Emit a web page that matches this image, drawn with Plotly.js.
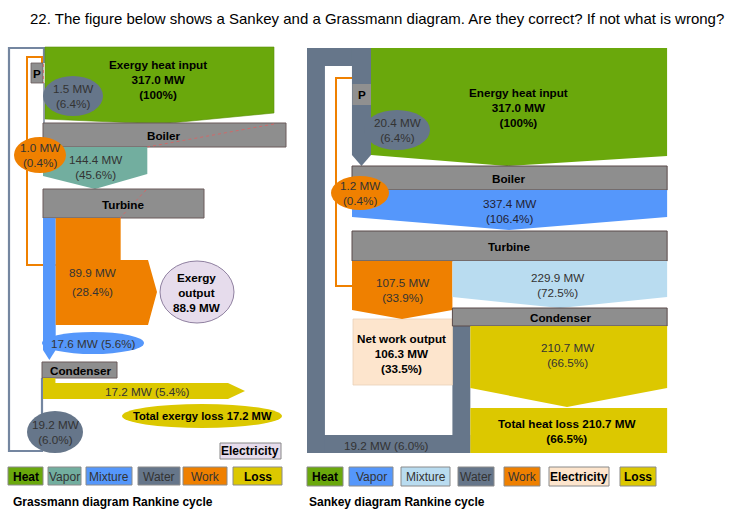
<!DOCTYPE html>
<html>
<head>
<meta charset="utf-8">
<script src="https://cdn.plot.ly/plotly-3.0.1.min.js"></script>
<style>html,body{margin:0;padding:0;background:#fff;}#chart{width:736px;height:517px;}</style>
</head>
<body>
<div id="chart"></div>
<script>
// ---------------- DATA ----------------
const titleText = '22. The figure below shows a Sankey and a Grassmann diagram. Are they correct? If not what is wrong?';
// Grassmann (exergy) diagram
const grassFlows = ['Exergy heat input', 'Pump water', 'Pump work', 'Vapor', 'Work', 'Mixture', 'Loss', 'Return water'];
const grassMW    = [317.0, 1.5, 1.0, 144.4, 89.9, 17.6, 17.2, 19.2];
const grassPct   = ['100%', '6.4%', '0.4%', '45.6%', '28.4%', '5.6%', '5.4%', '6.0%'];
const grassExergyOutputMW = 88.9;
const grassTotalLossMW = 17.2;
// Sankey (energy) diagram
const sankeyFlows = ['Energy heat input', 'Pump water', 'Pump work', 'Vapor', 'Work', 'Mixture', 'Loss', 'Return water'];
const sankeyMW    = [317.0, 20.4, 1.2, 337.4, 107.5, 229.9, 210.7, 19.2];
const sankeyPct   = ['100%', '6.4%', '0.4%', '106.4%', '33.9%', '72.5%', '66.5%', '6.0%'];
const sankeyNetWorkMW = 106.3, sankeyNetWorkPct = '33.5%';
const sankeyTotalLossMW = 210.7, sankeyTotalLossPct = '66.5%';
// Components and legends
const components = ['P', 'Boiler', 'Turbine', 'Condenser'];
const legendLeft  = ['Heat', 'Vapor', 'Mixture', 'Water', 'Work', 'Loss'];
const legendRight = ['Heat', 'Vapor', 'Mixture', 'Water', 'Work', 'Electricity', 'Loss'];
const captions = ['Grassmann diagram Rankine cycle', 'Sankey diagram Rankine cycle'];

// ---------------- STYLE ----------------
const C = {
  Heat: '#6aa80c', VaporG: '#72ae9f', Vapor: '#5597fb', Mixture: '#5597fb', MixtureS: '#b9dcf0',
  Water: '#66768a', Work: '#ef8000', Loss: '#dcc800', ElecG: '#e6dcec', ElecS: '#fde5cd',
  Box: '#8e8e8e', BoxLine: '#6a5a5a'
};
const FONT = 'Liberation Sans, Arial, sans-serif';
const FS = 11.7;
const mw = v => v.toFixed(1) + ' MW';

const shapes = [], ann = [];
function poly(pts, fill, line, lw) {
  const d = 'M ' + pts.map(p => p[0] + ',' + p[1]).join(' L ') + ' Z';
  shapes.push({type: 'path', xref: 'x', yref: 'y', path: d, fillcolor: fill,
    line: {color: line || fill, width: lw === undefined ? 0 : lw}, layer: 'above'});
}
function pline(pts, color, width, dash) {
  const d = 'M ' + pts.map(p => p[0] + ',' + p[1]).join(' L ');
  shapes.push({type: 'path', xref: 'x', yref: 'y', path: d, fillcolor: 'rgba(0,0,0,0)',
    line: {color: color, width: width, dash: dash || 'solid'}, layer: 'above'});
}
function rect(x0, y0, x1, y1, fill, line, lw) {
  shapes.push({type: 'rect', xref: 'x', yref: 'y', x0: x0, y0: y0, x1: x1, y1: y1, fillcolor: fill,
    line: {color: line || fill, width: lw === undefined ? 0 : lw}, layer: 'above'});
}
function ell(cx, cy, rx, ry, fill, line, lw) {
  shapes.push({type: 'circle', xref: 'x', yref: 'y', x0: cx - rx, y0: cy - ry, x1: cx + rx, y1: cy + ry,
    fillcolor: fill, line: {color: line || fill, width: lw === undefined ? 0 : lw}, layer: 'above'});
}
function txt(x, y, text, opt) {
  opt = opt || {};
  const bold = opt.bold;
  ann.push({xref: 'x', yref: 'y', x: x, y: y, text: bold ? '<b>' + text + '</b>' : text, showarrow: false,
    xanchor: opt.xanchor || 'center', yanchor: 'middle', align: opt.align || 'center',
    font: {family: opt.family || FONT, size: opt.size || FS, color: opt.color || (bold ? '#000' : '#333')}});
}

// ---------------- GRASSMANN (left) ----------------
const kG = 229 / grassMW[0]; // px per MW
const gx0 = 43;
const gMixR = gx0 + grassMW[5] * kG;
const gWorkR = gMixR + grassMW[4] * kG;
const gHeatL = 45, gHeatR = gHeatL + grassMW[0] * kG;
const gVapR = gx0 + grassMW[3] * kG;
const gLossR = gx0 + grassMW[6] * kG;

// water return loop (thin)
pline([[42, 378], [42, 451], [9, 451], [9, 48], [44, 48], [44, 63]], '#7486a0', 2.2);
// work to pump (thin orange)
pline([[gMixR, 265], [27, 265], [27, 57], [42, 57], [42, 63]], C.Work, 2);
// heat input
poly([[gHeatL, 47], [gHeatR, 47], [gHeatR, 113], [160, 124], [gHeatL, 119]], C.Heat, '#5a8f0a', 0.6);
pline([[44, 83], [44, 123]], '#7b8797', 1.5);
// pump
rect(31, 63, 43, 83, C.Box, C.BoxLine, 0.8);
pline([[43.5, 64], [43.5, 83]], '#e06060', 0.8, 'dot');
ell(73, 96, 30, 20, C.Water);
// boiler
rect(gx0, 123, 286, 147, C.Box, C.BoxLine, 1);
pline([[274, 124], [147, 147]], '#e06060', 0.8, 'dot');
// vapor
poly([[gx0, 147], [gVapR, 147], [gVapR, 174], [95, 189], [gx0, 176]], C.VaporG);
ell(40, 155, 26, 18, C.Work);
// turbine
rect(gx0, 189, 204, 218, C.Box, C.BoxLine, 1);
pline([[146, 190], [120, 218]], '#e06060', 0.8, 'dot');
// mixture down to condenser
poly([[gx0, 218], [gMixR, 218], [gMixR, 350], [(gx0 + gMixR) / 2, 360], [gx0, 350]], C.Mixture);
// work
poly([[gMixR, 218], [gWorkR, 218], [gWorkR, 260], [148, 260], [157, 292], [148, 325], [gMixR, 325]], C.Work);
ell(197, 292, 37, 31, C.ElecG, '#8f80a0', 1);
ell(93, 343, 51, 11, C.Mixture);
// condenser
rect(42, 362, 117, 378, C.Box, C.BoxLine, 1);
// loss
poly([[gx0, 378], [gLossR, 378], [gLossR, 383], [228, 383], [245, 391], [228, 399], [gx0, 399]], C.Loss);
ell(202, 416, 80, 12, C.Loss);
ell(55, 432, 28, 21, C.Water);
rect(220, 443, 281, 459, C.ElecG, '#888', 1);

txt(158, 79, 'Exergy heat input<br>' + mw(grassMW[0]) + '<br>(' + grassPct[0] + ')', {bold: true});
txt(37, 73, components[0], {bold: true});
txt(73, 96, mw(grassMW[1]) + '<br>(' + grassPct[1] + ')');
txt(164, 135, components[1], {bold: true});
txt(40, 155, mw(grassMW[2]) + '<br>(' + grassPct[2] + ')');
txt(95, 167, mw(grassMW[3]) + '<br>(' + grassPct[3] + ')');
txt(123, 204, components[2], {bold: true});
txt(92, 272, mw(grassMW[4]));
txt(92, 291, '(' + grassPct[4] + ')');
txt(197, 292, 'Exergy<br>output<br>' + mw(grassExergyOutputMW), {bold: true});
txt(93, 343, mw(grassMW[5]) + ' (' + grassPct[5] + ')');
txt(80, 370, components[3], {bold: true});
txt(147, 391, mw(grassMW[6]) + ' (' + grassPct[6] + ')');
txt(202, 416, 'Total exergy loss ' + mw(grassTotalLossMW), {bold: true, size: 11.2});
txt(55, 432, mw(grassMW[7]) + '<br>(' + grassPct[7] + ')');
txt(250, 451, 'Electricity', {bold: true, size: 12});

// ---------------- SANKEY (right) ----------------
const kS = 0.934;
const sx0 = 352;
const sBoilR = sx0 + sankeyMW[3] * kS;
const sHeatL = 371, sHeatR = sHeatL + sankeyMW[0] * kS;
const sWorkR = sx0 + sankeyMW[4] * kS;
const sWaterR = sWorkR + sankeyMW[7] * kS;
const wW = sankeyMW[7] * kS;          // return water band
const wP = sankeyMW[1] * kS;          // pumped water band
const loopL = 307, loopT = 48, loopB = 453;

// orange pump work line
pline([[sx0, 286], [336, 286], [336, 78], [353, 78]], C.Work, 2);
// water loop
rect(sWorkR, 326, sWaterR, loopB, C.Water);
rect(loopL, loopB - wW, sWaterR, loopB, C.Water);
rect(loopL, loopT, loopL + wW, loopB, C.Water);
rect(loopL, loopT, sHeatL, loopT + wW, C.Water);
poly([[sHeatL - wP, loopT], [sHeatL, loopT], [sHeatL, 155], [sHeatL - wP / 2, 166], [sHeatL - wP, 155]], C.Water);
rect(sHeatL - wP + 0.5, 84, sHeatL, 105, '#909090');
// heat input
poly([[sHeatL, 48], [sHeatR, 48], [sHeatR, 156], [507, 166], [sHeatL, 155]], C.Heat);
ell(397, 130, 33, 20, C.Water);
// boiler
rect(sx0, 166, sBoilR, 190, C.Box, '#5a4a4a', 1);
// vapor
poly([[sx0, 190], [sBoilR, 190], [sBoilR, 217], [509, 230], [sx0, 217]], C.Vapor);
ell(360, 193, 29, 17, C.Work);
// turbine
rect(sx0, 231, sBoilR, 261, C.Box, '#5a4a4a', 1);
// net work box
rect(353, 319, sWorkR, 385, C.ElecS, '#e8d0b8', 0.8);
// work
poly([[sx0, 261], [sWorkR, 261], [sWorkR, 310], [402, 319], [sx0, 310]], C.Work);
// mixture
poly([[sWorkR, 261], [sBoilR, 261], [sBoilR, 297], [560, 308], [sWorkR, 297]], C.MixtureS);
// condenser
rect(sWorkR, 308, sBoilR, 326, C.Box, '#5a4a4a', 1);
// loss
poly([[sWaterR, 326], [sBoilR, 326], [sBoilR, 388], [567, 407], [sWaterR, 388]], C.Loss);
rect(sWaterR, 408, sBoilR, loopB, C.Loss);

txt(518, 107, 'Energy heat input<br>' + mw(sankeyMW[0]) + '<br>(' + sankeyPct[0] + ')', {bold: true});
txt(362, 94.5, components[0], {bold: true});
txt(397, 130, mw(sankeyMW[1]) + '<br>(' + sankeyPct[1] + ')');
txt(509, 178, components[1], {bold: true});
txt(360, 193, mw(sankeyMW[2]) + '<br>(' + sankeyPct[2] + ')');
txt(509, 211, mw(sankeyMW[3]) + '<br>(' + sankeyPct[3] + ')', {color: '#223'});
txt(509, 246, components[2], {bold: true});
txt(402, 290, mw(sankeyMW[4]) + '<br>(' + sankeyPct[4] + ')');
txt(557, 285, mw(sankeyMW[5]) + '<br>(' + sankeyPct[5] + ')');
txt(560, 317, components[3], {bold: true});
txt(401, 353, 'Net work output<br>' + mw(sankeyNetWorkMW) + '<br>(' + sankeyNetWorkPct + ')', {bold: true});
txt(567, 355, mw(sankeyMW[6]) + '<br>(' + sankeyPct[6] + ')');
txt(567, 431, 'Total heat loss ' + mw(sankeyTotalLossMW) + '<br>(' + sankeyTotalLossPct + ')', {bold: true});
txt(386, 445, mw(sankeyMW[7]) + ' (' + sankeyPct[7] + ')');

// ---------------- LEGENDS ----------------
const legL = {Heat: [8, 43, C.Heat], Vapor: [48, 81, C.VaporG], Mixture: [86, 132, C.Mixture],
  Water: [138, 180, C.Water], Work: [183, 227, C.Work], Loss: [233, 282, C.Loss]};
const legR = {Heat: [307, 343, C.Heat], Vapor: [349, 393, C.Vapor], Mixture: [401, 450, C.MixtureS],
  Water: [458, 494, C.Water], Work: [504, 540, C.Work], Electricity: [549, 609, C.ElecS], Loss: [620, 656, C.Loss]};
const boldLeg = ['Heat', 'Loss', 'Electricity'];
legendLeft.forEach(n => {
  const g = legL[n];
  rect(g[0], 467, g[1], 485, g[2], '#8a8a8a', 1);
  txt((g[0] + g[1]) / 2, 476.5, n, {bold: boldLeg.includes(n), size: 12, color: boldLeg.includes(n) ? '#000' : '#333'});
});
legendRight.forEach(n => {
  const g = legR[n];
  rect(g[0], 467, g[1], 486, g[2], '#8a8a8a', 1);
  txt((g[0] + g[1]) / 2, 477, n, {bold: boldLeg.includes(n), size: 12, color: boldLeg.includes(n) ? '#000' : '#333'});
});
txt(11, 502, captions[0], {bold: true, size: 12, xanchor: 'left'});
txt(307, 502, captions[1], {bold: true, size: 12, xanchor: 'left'});
txt(377, 18, titleText, {size: 15, family: 'Liberation Sans Narrow, Arial Narrow, sans-serif', color: '#000'});

const layout = {
  width: 736, height: 517, margin: {l: 0, r: 0, t: 0, b: 0},
  paper_bgcolor: '#fff', plot_bgcolor: '#fff', showlegend: false,
  xaxis: {range: [0, 736], visible: false, fixedrange: true},
  yaxis: {range: [517, 0], visible: false, fixedrange: true},
  shapes: shapes, annotations: ann
};
Plotly.newPlot('chart', [{x: [0], y: [0], mode: 'markers', marker: {opacity: 0}, hoverinfo: 'skip'}], layout, {staticPlot: true});
</script>
</body>
</html>
